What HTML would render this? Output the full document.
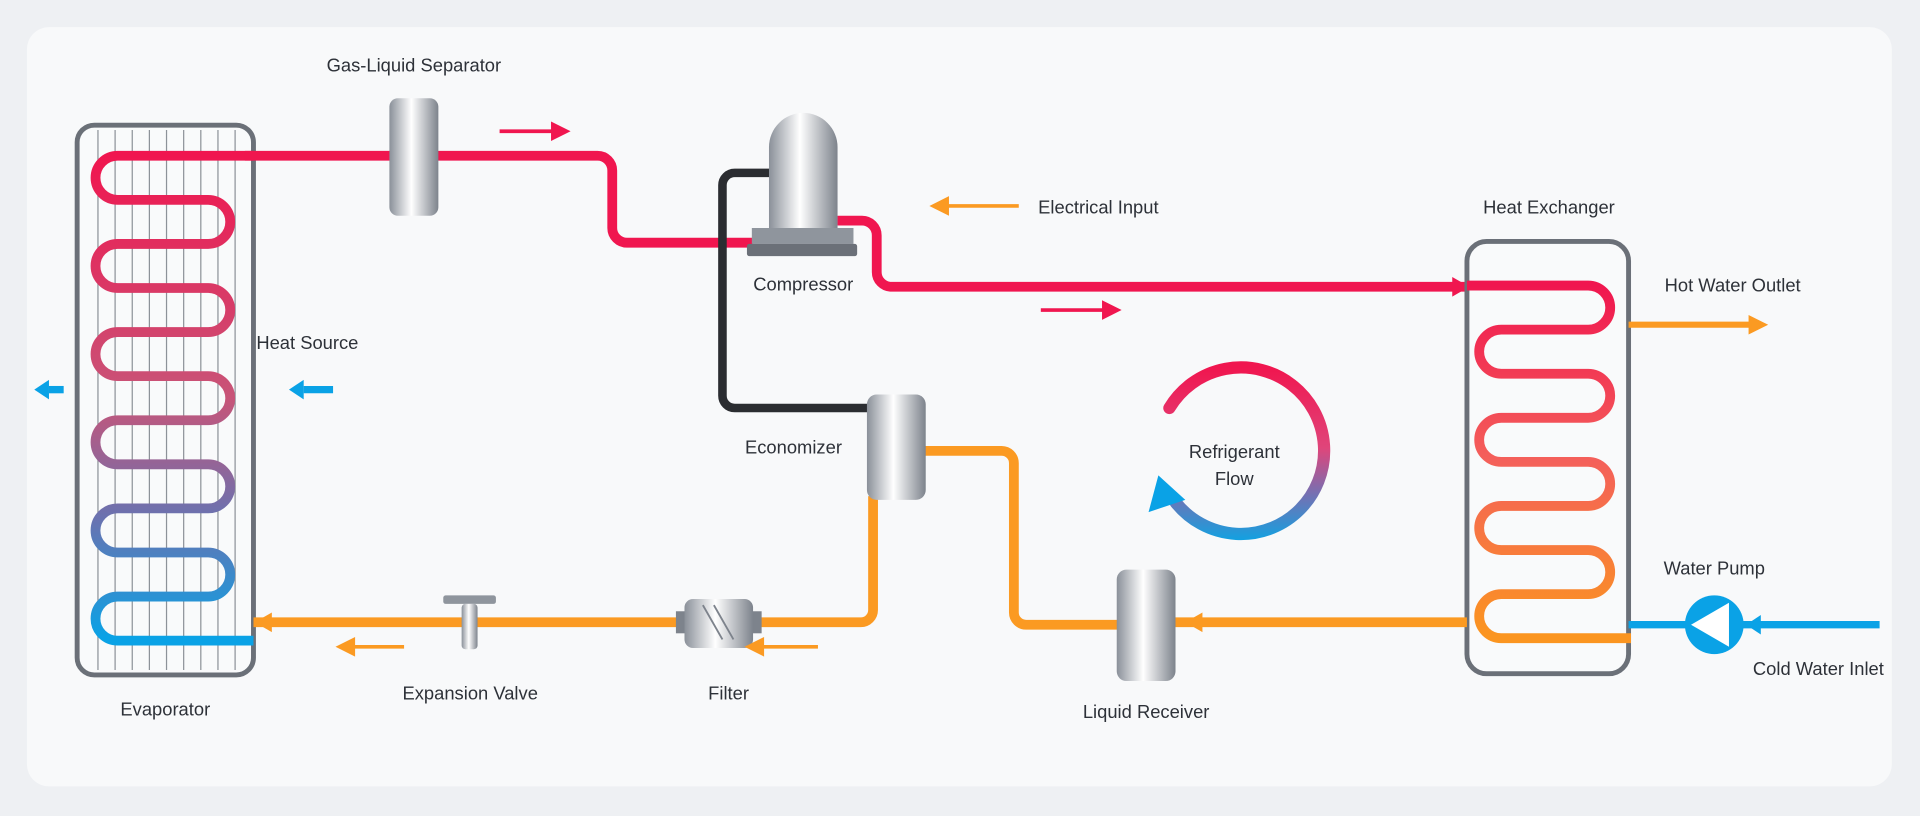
<!DOCTYPE html>
<html><head><meta charset="utf-8"><style>
html,body{margin:0;padding:0;background:#eef0f3;}
svg{display:block;}
text{font-family:"Liberation Sans",sans-serif;fill:#2d3138;font-size:15px;}
</style></head><body>
<svg width="1920" height="816" viewBox="0 0 1568 666" xmlns="http://www.w3.org/2000/svg">
<defs>
<linearGradient id="evg" x1="0" y1="127" x2="0" y2="521" gradientUnits="userSpaceOnUse">
<stop offset="0" stop-color="#f0164f"/><stop offset="0.5" stop-color="#c85478"/><stop offset="0.75" stop-color="#6a72b0"/><stop offset="1" stop-color="#0aa2e6"/></linearGradient>
<linearGradient id="hxg" x1="0" y1="233" x2="0" y2="519" gradientUnits="userSpaceOnUse">
<stop offset="0" stop-color="#f0164f"/><stop offset="0.5" stop-color="#f4605a"/><stop offset="1" stop-color="#fb9520"/></linearGradient>
<linearGradient id="rfg" x1="0" y1="300" x2="0" y2="445" gradientUnits="userSpaceOnUse">
<stop offset="0" stop-color="#f0164f"/><stop offset="0.45" stop-color="#e0457a"/><stop offset="0.7" stop-color="#7a6eb0"/><stop offset="1" stop-color="#08a6e6"/></linearGradient>
<linearGradient id="cyl" x1="0" y1="0" x2="1" y2="0">
<stop offset="0" stop-color="#8a9099"/><stop offset="0.45" stop-color="#ffffff"/><stop offset="1" stop-color="#7d838c"/></linearGradient>
</defs>
<rect x="0" y="0" width="1568" height="666" fill="#eef0f3"/>
<rect x="22" y="22" width="1523" height="620" rx="18" fill="#f8f9fa"/>

<!-- evaporator -->
<rect x="63" y="102" width="144" height="449" rx="14" fill="#f9fafb" stroke="#6b7078" stroke-width="4"/>
<g stroke="#8d9299" stroke-width="1">
<line x1="80" y1="106" x2="80" y2="547"/><line x1="94" y1="106" x2="94" y2="547"/><line x1="108" y1="106" x2="108" y2="547"/><line x1="122" y1="106" x2="122" y2="547"/><line x1="136" y1="106" x2="136" y2="547"/><line x1="150" y1="106" x2="150" y2="547"/><line x1="164" y1="106" x2="164" y2="547"/><line x1="178" y1="106" x2="178" y2="547"/><line x1="192" y1="106" x2="192" y2="547"/>
</g>
<path d="M207 127 H96 a18 18 0 0 0 0 36 H170 a18 18 0 0 1 0 36 H96 a18 18 0 0 0 0 36 H170 a18 18 0 0 1 0 36 H96 a18 18 0 0 0 0 36 H170 a18 18 0 0 1 0 36 H96 a18 18 0 0 0 0 36 H170 a18 18 0 0 1 0 36 H96 a18 18 0 0 0 0 36 H170 a18 18 0 0 1 0 36 H96 a18 18 0 0 0 0 36 H207" fill="none" stroke="url(#evg)" stroke-width="8"/>

<!-- suction red line -->
<path d="M200 127 H488 a12 12 0 0 1 12 12 V186 a12 12 0 0 0 12 12 H615" fill="none" stroke="#f0164f" stroke-width="8"/>
<!-- black line -->
<path d="M630 141 H600 a10 10 0 0 0 -10 10 V323 a10 10 0 0 0 10 10 H712" fill="none" stroke="#2b2d31" stroke-width="7"/>
<!-- discharge red -->
<path d="M684 180 H704 a12 12 0 0 1 12 12 V222 a12 12 0 0 0 12 12 H1198" fill="none" stroke="#f0164f" stroke-width="8"/>
<polygon points="1186,226 1200,234 1186,242" fill="#f0164f"/>
<!-- HX -->
<rect x="1198" y="197" width="132" height="353" rx="16" fill="#f9fafb" stroke="#6b7078" stroke-width="4"/>
<path d="M1198 233 H1297 a18 18 0 0 1 0 36 H1226 a18 18 0 0 0 0 36 H1297 a18 18 0 0 1 0 36 H1226 a18 18 0 0 0 0 36 H1297 a18 18 0 0 1 0 36 H1226 a18 18 0 0 0 0 36 H1297 a18 18 0 0 1 0 36 H1226 a18 18 0 0 0 0 36 H1332" fill="none" stroke="url(#hxg)" stroke-width="8"/>

<!-- orange lines -->
<path d="M755 368 H818 a10 10 0 0 1 10 10 V500 a10 10 0 0 0 10 10 H915" fill="none" stroke="#fb9a22" stroke-width="8"/>
<path d="M960 508 H1198" fill="none" stroke="#fb9a22" stroke-width="8"/>
<polygon points="982,500 968,508 982,516" fill="#fb9a22"/>
<path d="M713 405 V498 a10 10 0 0 1 -10 10 H207" fill="none" stroke="#fb9a22" stroke-width="8"/>
<polygon points="222,500 208,508 222,516" fill="#fb9a22"/>

<!-- separator -->
<rect x="318" y="80" width="40" height="96" rx="7" fill="url(#cyl)"/>
<!-- compressor -->
<path d="M628 188 V120 a28 28 0 0 1 56 0 V188 Z" fill="url(#cyl)"/>
<rect x="614" y="186" width="83" height="13" fill="#8f959d"/>
<rect x="610" y="199" width="90" height="10" rx="2" fill="#6b7078"/>
<!-- economizer -->
<rect x="708" y="322" width="48" height="86" rx="8" fill="url(#cyl)"/>
<!-- liquid receiver -->
<rect x="912" y="465" width="48" height="91" rx="8" fill="url(#cyl)"/>
<!-- filter -->
<rect x="552" y="499" width="8" height="18" fill="#7d838c"/>
<rect x="614" y="499" width="8" height="18" fill="#7d838c"/>
<rect x="559" y="489" width="56" height="40" rx="7" fill="url(#cyl)"/>
<line x1="574" y1="494" x2="590" y2="522" stroke="#7d838c" stroke-width="1.5"/>
<line x1="583" y1="494" x2="599" y2="522" stroke="#7d838c" stroke-width="1.5"/>
<!-- expansion valve -->
<rect x="362" y="486" width="43" height="7" rx="2" fill="#8f959d"/>
<rect x="377" y="493" width="13" height="37" rx="3" fill="url(#cyl)"/>

<!-- small arrows -->
<line x1="408" y1="107" x2="455" y2="107" stroke="#f0164f" stroke-width="3"/><polygon points="450,99 466,107 450,115" fill="#f0164f"/>
<line x1="850" y1="253" x2="905" y2="253" stroke="#f0164f" stroke-width="3"/><polygon points="900,245 916,253 900,261" fill="#f0164f"/>
<line x1="770" y1="168" x2="832" y2="168" stroke="#fb9a22" stroke-width="3"/><polygon points="775,160 759,168 775,176" fill="#fb9a22"/>
<line x1="285" y1="528" x2="330" y2="528" stroke="#fb9a22" stroke-width="3"/><polygon points="290,520 274,528 290,536" fill="#fb9a22"/>
<line x1="620" y1="528" x2="668" y2="528" stroke="#fb9a22" stroke-width="3"/><polygon points="624,520 608,528 624,536" fill="#fb9a22"/>
<line x1="1330" y1="265" x2="1432" y2="265" stroke="#fb9a22" stroke-width="5"/><polygon points="1428,257 1444,265 1428,273" fill="#fb9a22"/>
<line x1="248" y1="318" x2="272" y2="318" stroke="#0aa2e6" stroke-width="6"/><polygon points="248,310 236,318 248,326" fill="#0aa2e6"/>
<line x1="40" y1="318" x2="52" y2="318" stroke="#0aa2e6" stroke-width="6"/><polygon points="40,310 28,318 40,326" fill="#0aa2e6"/>

<!-- water -->
<line x1="1330" y1="510" x2="1535" y2="510" stroke="#0aa2e6" stroke-width="6"/>
<polygon points="1438,502 1426,510 1438,518" fill="#0aa2e6"/>
<circle cx="1400" cy="510" r="24" fill="#0aa2e6"/>
<polygon points="1381,510 1412,492 1412,528" fill="#fff"/>

<!-- refrigerant flow -->
<path d="M955 333 A68 68 0 1 1 960 410" fill="none" stroke="url(#rfg)" stroke-width="10" stroke-linecap="round"/>
<polygon points="938,418 946,388 968,408" fill="#0aa2e6"/>

<!-- labels -->
<text x="338" y="58" text-anchor="middle">Gas-Liquid Separator</text>
<text x="656" y="237" text-anchor="middle" font-size="16">Compressor</text>
<text x="251" y="285" text-anchor="middle">Heat Source</text>
<text x="648" y="370" text-anchor="middle">Economizer</text>
<text x="384" y="571" text-anchor="middle">Expansion Valve</text>
<text x="595" y="571" text-anchor="middle">Filter</text>
<text x="135" y="584" text-anchor="middle" font-size="16">Evaporator</text>
<text x="936" y="586" text-anchor="middle">Liquid Receiver</text>
<text x="897" y="174" text-anchor="middle">Electrical Input</text>
<text x="1265" y="174" text-anchor="middle" font-size="17">Heat Exchanger</text>
<text x="1415" y="238" text-anchor="middle">Hot Water Outlet</text>
<text x="1008" y="374" text-anchor="middle">Refrigerant</text>
<text x="1008" y="396" text-anchor="middle">Flow</text>
<text x="1400" y="469" text-anchor="middle">Water Pump</text>
<text x="1485" y="551" text-anchor="middle">Cold Water Inlet</text>
</svg>
</body></html>
